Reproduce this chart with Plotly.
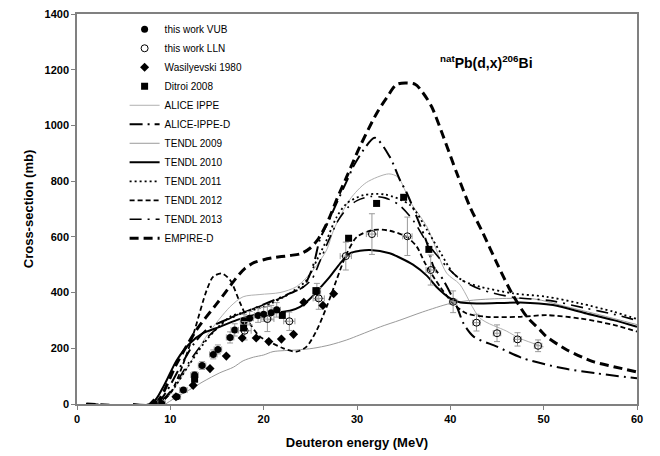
import plotly.graph_objects as go

# ---------------- data ----------------
# Experimental data
vub_e = [9.07, 10.7, 11.4, 12.6, 13.4, 14.6, 15.1, 16.4, 16.9, 17.9, 18.5, 19.4, 20.0, 20.8, 21.4, 25.7]
vub_s = [2, 26, 50, 104, 138, 178, 196, 239, 266, 298, 308, 318, 322, 328, 338, 403]
vub_ds = [2, 6, 8, 12, 14, 16, 16, 20, 22, 24, 24, 25, 25, 26, 26, 30]
vub_de = [0.4, 0.4, 0.4, 0.4, 0.4, 0.4, 0.4, 0.4, 0.4, 0.4, 0.4, 0.4, 0.4, 0.4, 0.4, 0.4]

lln_e = [17.96, 20.4, 22.75, 25.9, 28.8, 31.6, 35.4, 37.9, 40.3, 42.8, 45.0, 47.2, 49.4]
lln_s = [263, 305, 297, 379, 531, 610, 602, 481, 367, 292, 254, 232, 209]
lln_ds = [33, 45, 33, 39, 50, 73, 69, 54, 39, 30, 30, 24, 21]
lln_de = [0.7, 0.7, 0.6, 0.6, 0.6, 0.6, 0.5, 0.5, 0.4, 0.4, 0.4, 0.4, 0.4]

was_e = [8.2, 10.6, 12.45, 14.25, 16.0, 17.7, 19.2, 20.55, 21.9, 23.2, 24.3, 26.35, 27.5]
was_s = [3, 26, 67, 127, 172, 237, 237, 224, 233, 250, 365, 354, 396]

dit_e = [12.6, 17.85, 22.0, 25.6, 29.1, 32.1, 35.0, 37.7]
dit_s = [89, 273, 318, 407, 595, 720, 742, 555]

# Theoretical curves
alice_e = [9, 10, 12, 14, 16.4, 17.8, 19.6, 21.75, 23.5, 25.3, 26.75, 27.5, 29.25, 31.0, 33.4, 34.4, 35.7, 37.5, 39.6, 41.0, 43.2, 46.0, 47.5, 50]
alice_s = [0, 35, 140, 250, 349, 385, 393, 400, 421, 481, 553, 625, 735, 795, 826, 814, 726, 636, 470, 430, 308, 262, 235, 205]

aliced_e = [6, 8.5, 9.5, 11, 12.5, 14, 16.4, 18.5, 20.7, 22.8, 24.25, 25.0, 25.5, 26.0, 27.0, 27.8, 28.9, 29.6, 30.7, 31.9, 33.5, 34.6, 35.3, 36.4, 37.5, 38.2, 39.25, 40.7, 41.4, 42.5, 45, 47.8, 52.1, 55.7, 60]
aliced_s = [0, 0, 40, 130, 215, 270, 308, 337, 367, 397, 421, 469, 520, 589, 660, 720, 800, 852, 912, 956, 888, 804, 760, 672, 577, 493, 445, 349, 290, 242, 206, 164, 128, 110, 92]

t09_e = [9.5, 10.7, 12, 13.5, 15.3, 16.75, 17.8, 18.9, 20.0, 21.0, 23.5, 25.3, 27.1, 28.9, 30.3, 32.5, 34.6, 37, 40, 42.5, 46, 49, 52.5, 56, 60]
t09_s = [0, 26, 50, 80, 112, 132, 155, 168, 176, 188, 194, 200, 212, 230, 248, 277, 301, 330, 361, 373, 379, 377, 349, 320, 285]

t10_e = [1, 8.0, 9.25, 10.7, 12.1, 13.5, 15.3, 17.1, 18.9, 20.7, 22.8, 23.9, 25.0, 26.0, 27.1, 28.2, 29.25, 30.3, 31.4, 33.5, 34.6, 36.0, 37.5, 38.5, 40.0, 41.1, 43.2, 47.5, 51.0, 54.6, 57.5, 60]
t10_s = [0, 2, 62, 158, 218, 254, 277, 301, 319, 327, 335, 349, 379, 415, 457, 505, 541, 550, 553, 541, 525, 500, 460, 421, 379, 364, 361, 364, 355, 325, 301, 277]

t11_e = [1, 8.5, 10, 12, 14, 16.4, 18, 20, 22.8, 24.6, 25.7, 26.75, 27.8, 28.9, 30.7, 33.0, 35.7, 37.5, 39.0, 40.3, 41.5, 43.2, 46.75, 50.3, 53.9, 57.5, 60]
t11_s = [0, 0, 40, 140, 235, 313, 330, 349, 397, 445, 517, 589, 670, 720, 750, 752, 714, 625, 540, 470, 440, 421, 397, 385, 361, 331, 305]

t12_e = [1, 8.5, 10.0, 11.4, 12.5, 13.9, 14.6, 15.5, 16.4, 17.5, 18.5, 19.6, 20.7, 22.1, 23.5, 24.6, 25.7, 26.75, 27.8, 28.9, 30.0, 31.75, 33.5, 35.3, 36.4, 37.3, 38.9, 40.3, 41.75, 43.9, 47.5, 50.3, 53.9, 57.5, 60]
t12_s = [0, 0, 39, 146, 254, 409, 457, 469, 445, 361, 290, 242, 222, 200, 188, 206, 266, 349, 445, 540, 600, 625, 622, 600, 565, 505, 421, 361, 325, 313, 313, 319, 307, 284, 260]

t13_e = [1, 8.5, 10, 12, 14, 16.4, 18.5, 20.7, 22.8, 24.25, 25.2, 26, 27, 28, 29, 30, 31.5, 33, 34.5, 36, 37.5, 39.6, 41, 43.2, 46.75, 50.7, 54.6, 57.5, 60]
t13_s = [0, 0, 45, 150, 240, 308, 337, 365, 395, 420, 450, 510, 590, 660, 705, 730, 745, 740, 715, 660, 580, 493, 450, 412, 383, 371, 343, 322, 300]

emp_e = [1, 8.3, 9.0, 10.7, 12.8, 15.0, 16.0, 17.0, 18.0, 19.0, 20.0, 21.0, 22.8, 24.0, 25.0, 25.9, 27.0, 27.8, 28.9, 30.3, 32.1, 33.2, 34.3, 36.2, 37.0, 38.0, 39.25, 40.7, 42.1, 43.5, 45.0, 46.6, 48.2, 49.6, 50.3, 52.5, 55.3, 57.5, 60]
emp_s = [0, 0, 26, 146, 266, 361, 405, 450, 487, 508, 518, 525, 533, 540, 560, 595, 665, 732, 816, 923, 1043, 1100, 1148, 1148, 1120, 1067, 960, 828, 708, 613, 505, 397, 313, 266, 242, 194, 152, 134, 115]

x_ticks = [0, 10, 20, 30, 40, 50, 60]
y_ticks = [0, 200, 400, 600, 800, 1000, 1200, 1400]

# ---------------- figure ----------------
FONT = "Arial, Liberation Sans, sans-serif"
fig = go.Figure()

def curve(x, y, name, color, width, dash, rank):
    fig.add_trace(go.Scatter(
        x=x, y=y, name=name, mode="lines", legendrank=rank,
        line=dict(color=color, width=width, dash=dash, shape="spline", smoothing=0.8),
    ))

curve(t09_e, t09_s, "TENDL 2009", "#9a9a9a", 1, "solid", 7)
curve(alice_e, alice_s, "ALICE IPPE", "#b0b0b0", 1, "solid", 5)
curve(t12_e, t12_s, "TENDL 2012", "black", 1.8, "5px,3px", 10)
curve(t11_e, t11_s, "TENDL 2011", "black", 1.8, "2px,3px", 9)
curve(t13_e, t13_s, "TENDL 2013", "black", 1.6, "12px,6px,2px,6px", 11)
curve(t10_e, t10_s, "TENDL 2010", "black", 2, "solid", 8)
curve(aliced_e, aliced_s, "ALICE-IPPE-D", "black", 2, "13px,5px,2px,5px", 6)
curve(emp_e, emp_s, "EMPIRE-D", "black", 3, "9px,5px", 12)

err_style = dict(color="#9a9a9a", thickness=1, width=3)

fig.add_trace(go.Scatter(
    x=vub_e, y=vub_s, name="this work VUB", mode="markers", legendrank=1,
    marker=dict(symbol="circle", size=7, color="black"),
    error_y=dict(type="data", array=vub_ds, **err_style),
    error_x=dict(type="data", array=vub_de, **err_style),
))
fig.add_trace(go.Scatter(
    x=lln_e, y=lln_s, name="this work LLN", mode="markers", legendrank=2,
    marker=dict(symbol="circle-open", size=7, color="black", line=dict(width=1)),
    error_y=dict(type="data", array=lln_ds, **err_style),
    error_x=dict(type="data", array=lln_de, **err_style),
))
fig.add_trace(go.Scatter(
    x=was_e, y=was_s, name="Wasilyevski 1980", mode="markers", legendrank=3,
    marker=dict(symbol="diamond", size=7, color="black"),
))
fig.add_trace(go.Scatter(
    x=dit_e, y=dit_s, name="Ditroi 2008", mode="markers", legendrank=4,
    marker=dict(symbol="square", size=7, color="black"),
))

fig.add_annotation(
    x=0.818, y=0.905, xref="paper", yref="paper", showarrow=False,
    text="<b><sup>nat</sup>Pb(d,x)<sup>206</sup>Bi</b>",
    font=dict(family=FONT, size=14, color="black"),
)

fig.update_layout(
    width=660, height=456,
    margin=dict(l=77, r=23, t=14, b=52, autoexpand=False),
    paper_bgcolor="white", plot_bgcolor="white",
    font=dict(family=FONT, color="black"),
    showlegend=True,
    legend=dict(
        x=0.085, y=0.998, xanchor="left", yanchor="top",
        bgcolor="rgba(0,0,0,0)", borderwidth=0,
        font=dict(family=FONT, size=10, color="black"),
        traceorder="normal", tracegroupgap=0,
    ),
)
fig.update_xaxes(
    range=[0, 60], tickvals=x_ticks, showgrid=False, zeroline=False, automargin=False,
    showline=True, linecolor="#808080", linewidth=1.5, mirror=True,
    ticks="outside", ticklen=4, tickcolor="#808080",
    tickfont=dict(family=FONT, size=11, color="black", weight="bold"),
    title=dict(text="<b>Deuteron energy (MeV)</b>", font=dict(family=FONT, size=13), standoff=14),
)
fig.update_yaxes(
    range=[0, 1400], tickvals=y_ticks, showgrid=False, zeroline=False, automargin=False,
    showline=True, linecolor="#808080", linewidth=1.5, mirror=True,
    ticks="outside", ticklen=4, tickcolor="#808080",
    tickfont=dict(family=FONT, size=11, color="black", weight="bold"),
    title=dict(text="<b>Cross-section (mb)</b>", font=dict(family=FONT, size=13), standoff=8),
)

fig.write_html("out.html")
